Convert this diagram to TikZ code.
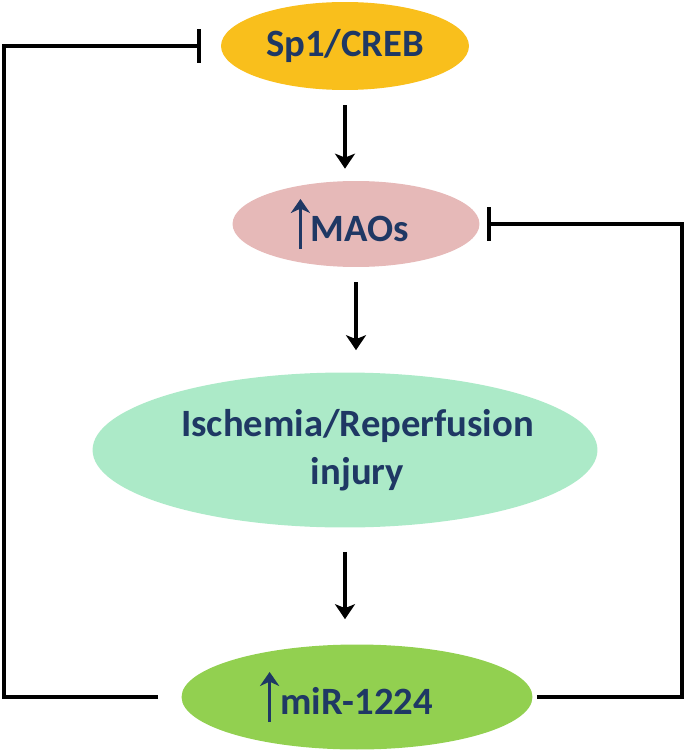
\documentclass[tikz,border=0pt]{standalone}
\usepackage{fontspec}
\setmainfont{Carlito}
\usetikzlibrary{shapes.geometric,arrows.meta}
\definecolor{navytext}{RGB}{31,56,100}
\definecolor{creborange}{RGB}{249,191,28}
\definecolor{maopink}{RGB}{230,185,184}
\definecolor{injurymint}{RGB}{172,234,200}
\definecolor{mirgreen}{RGB}{146,208,80}
\newcommand{\upmark}{\tikz[baseline=0pt]\draw[navytext,line width=2pt,-{Stealth[length=8pt,width=11pt,inset=2.5pt]}] (0,-4.5pt) -- (0,24pt);\hspace{0.5pt}}

\begin{document}
\begin{tikzpicture}[x=0.02cm,y=-0.02cm,
    blob/.style={ellipse, inner sep=0pt, text=navytext, font=\fontsize{22}{27}\selectfont\bfseries, align=center},
    down/.style={line width=2.3pt, -{Stealth[length=0.3cm,width=0.4cm,inset=0.08cm]}},
    block/.style={line width=2.3pt, -{Bar[width=0.68cm]}}
    ]
    \useasboundingbox (0,0) rectangle (685,753);

    \node [blob,fill=creborange,minimum width=4.96cm,minimum height=1.76cm] (sp1) at (345,46) {Sp1/CREB};
    \node [blob,fill=maopink,minimum width=4.94cm,minimum height=1.72cm] (maos) at (356,224) {\upmark MAOs\hspace*{0.24cm}};
    \node [blob,fill=injurymint,minimum width=10.1cm,minimum height=3.1cm] (isch) at (345,450)
        {\makebox[0pt]{\hspace*{0.5cm}Ischemia/Reperfusion}\\\makebox[0pt]{\hspace*{0.5cm}injury}};
    \node [blob,fill=mirgreen,minimum width=7.02cm,minimum height=2.1cm] (mir) at (357,697) {\upmark miR-1224\hspace*{0.42cm}};

    \coordinate (leftrail) at (4,0);
    \coordinate (rightrail) at (682,0);

    \draw [down,shorten <=0.3cm,shorten >=0.24cm] (sp1.south) -- (sp1.south |- maos.north);
    \draw [down,shorten <=0.3cm,shorten >=0.44cm] (maos.south) -- (maos.south |- isch.north);
    \draw [down,shorten <=0.48cm,shorten >=0.5cm] (isch.south) -- (isch.south |- mir.north);

    \draw [block,shorten <=0.46cm,shorten >=0.4cm] (mir.west) -- (mir.west -| leftrail) -- (leftrail |- sp1.west) -- (sp1.west);
    \draw [block,shorten <=0.08cm,shorten >=0.14cm] (mir.east) -- (mir.east -| rightrail) -- (rightrail |- maos.east) -- (maos.east);

\end{tikzpicture}
\end{document}
